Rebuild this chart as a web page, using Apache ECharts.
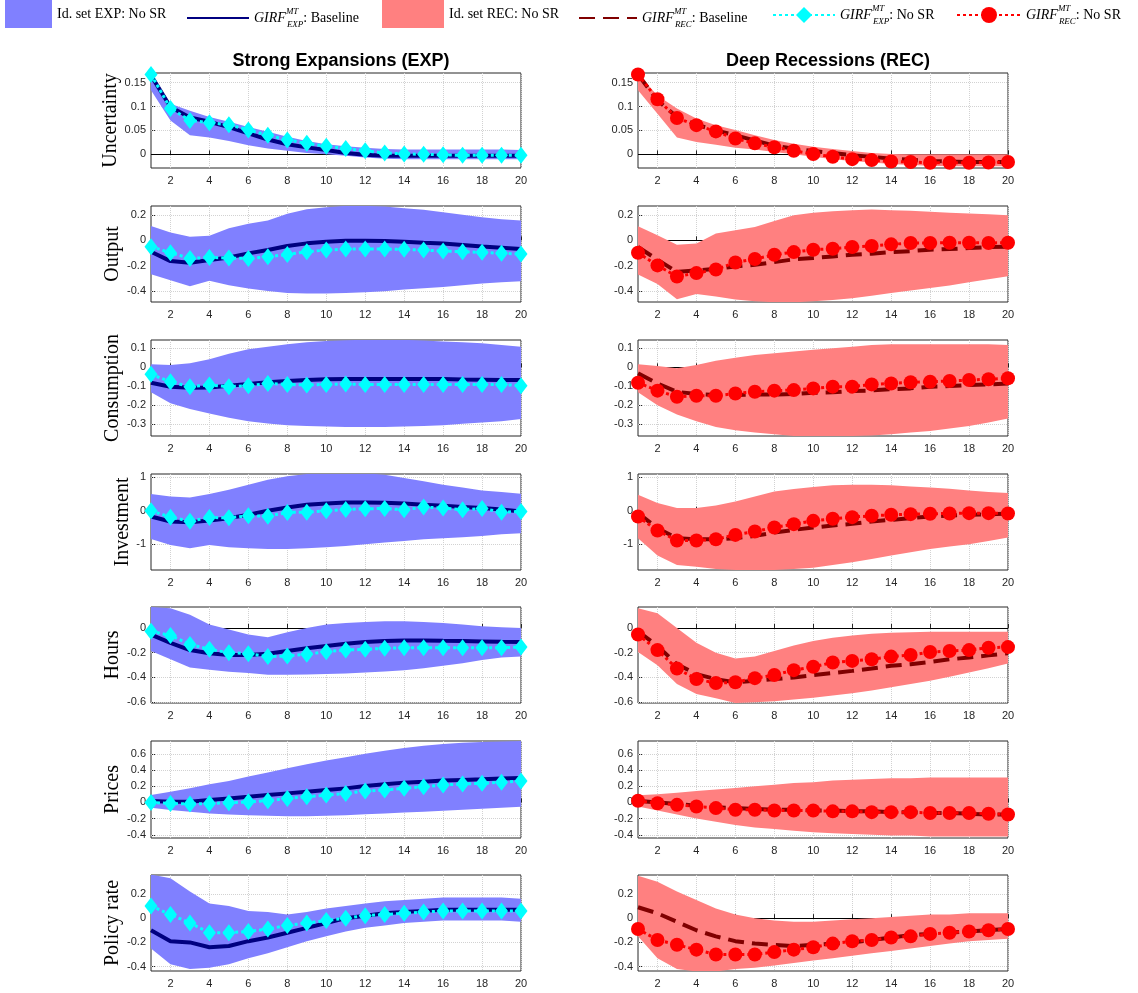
<!DOCTYPE html>
<html>
<head>
<meta charset="utf-8">
<script src="https://cdn.jsdelivr.net/npm/echarts@6/dist/echarts.min.js"></script>
<style>html,body{margin:0;padding:0;background:#fff;}#c{width:1138px;height:993px;}</style>
</head>
<body>
<div id="c"></div>
<script>
// ---------------- DATA ----------------
const horizons = [1,2,3,4,5,6,7,8,9,10,11,12,13,14,15,16,17,18,19,20];
const varNames = ['Uncertainty','Output','Consumption','Investment','Hours','Prices','Policy rate'];
const yTicks = [[0,0.05,0.1,0.15],[-0.4,-0.2,0,0.2],[-0.3,-0.2,-0.1,0,0.1],[-1,0,1],[-0.6,-0.4,-0.2,0],[-0.4,-0.2,0,0.2,0.4,0.6],[-0.4,-0.2,0,0.2]];
const yRanges = [[-0.0285,0.17],[-0.487,0.271],[-0.362,0.144],[-1.77,1.1],[-0.61,0.17],[-0.44,0.76],[-0.436,0.356]];

// Uncertainty
const uncExpHi = [0.168,0.106,0.091,0.078,0.068,0.057,0.047,0.037,0.028,0.021,0.017,0.014,0.011,0.010,0.010,0.010,0.010,0.010,0.010,0.009];
const uncExpLo = [0.134,0.071,0.040,0.035,0.028,0.019,0.012,0.0075,0.003,0.000,-0.003,-0.0065,-0.009,-0.010,-0.010,-0.010,-0.010,-0.010,-0.010,-0.010];
const uncExpBase = [0.165,0.099,0.077,0.068,0.057,0.044,0.031,0.021,0.0146,0.009,0.003,-0.001,-0.003,-0.003,-0.003,-0.003,-0.003,-0.003,-0.003,-0.003];
const uncExpNoSR = [0.167,0.096,0.071,0.066,0.062,0.051,0.040,0.030,0.023,0.017,0.012,0.0075,0.003,0.001,0.000,-0.001,-0.002,-0.002,-0.002,-0.002];
const uncRecHi = [0.168,0.123,0.096,0.075,0.061,0.051,0.040,0.030,0.022,0.016,0.011,0.007,0.003,0.001,0.000,0.000,0.000,0.000,0.000,0.000];
const uncRecLo = [0.134,0.085,0.035,0.026,0.020,0.014,0.010,0.005,0.000,-0.005,-0.010,-0.014,-0.017,-0.020,-0.022,-0.024,-0.025,-0.025,-0.025,-0.025];
const uncRecBase = [0.167,0.113,0.078,0.062,0.050,0.040,0.029,0.018,0.012,0.007,0.003,-0.002,-0.005,-0.009,-0.011,-0.014,-0.015,-0.016,-0.016,-0.016];
const uncRecNoSR = [0.167,0.115,0.076,0.061,0.048,0.033,0.023,0.015,0.0075,0.0006,-0.005,-0.010,-0.012,-0.015,-0.016,-0.0175,-0.0175,-0.0175,-0.017,-0.016];

// Output
const outExpHi = [0.114,0.061,0.029,0.037,0.095,0.130,0.156,0.209,0.246,0.262,0.272,0.272,0.267,0.254,0.241,0.222,0.201,0.183,0.167,0.156];
const outExpLo = [-0.267,-0.315,-0.362,-0.320,-0.354,-0.381,-0.400,-0.415,-0.420,-0.420,-0.415,-0.410,-0.402,-0.389,-0.378,-0.368,-0.354,-0.341,-0.331,-0.323];
const outExpBase = [-0.090,-0.164,-0.177,-0.156,-0.135,-0.103,-0.077,-0.045,-0.024,-0.011,-0.003,-0.003,-0.005,-0.011,-0.019,-0.026,-0.037,-0.048,-0.058,-0.069];
const outExpNoSR = [-0.050,-0.098,-0.143,-0.135,-0.140,-0.143,-0.130,-0.111,-0.090,-0.077,-0.069,-0.069,-0.069,-0.071,-0.077,-0.085,-0.090,-0.095,-0.103,-0.108];
const outRecHi = [0.111,0.040,-0.034,-0.026,0.053,0.079,0.106,0.153,0.198,0.217,0.230,0.238,0.243,0.238,0.233,0.225,0.217,0.212,0.206,0.198];
const outRecLo = [-0.270,-0.344,-0.466,-0.423,-0.444,-0.468,-0.481,-0.489,-0.490,-0.481,-0.471,-0.458,-0.437,-0.415,-0.397,-0.376,-0.357,-0.331,-0.307,-0.283];
const outRecBase = [-0.053,-0.153,-0.250,-0.238,-0.225,-0.206,-0.193,-0.172,-0.150,-0.140,-0.127,-0.114,-0.106,-0.093,-0.085,-0.074,-0.069,-0.061,-0.053,-0.050];
const outRecNoSR = [-0.098,-0.198,-0.286,-0.259,-0.230,-0.175,-0.148,-0.114,-0.093,-0.074,-0.066,-0.053,-0.045,-0.032,-0.021,-0.021,-0.019,-0.019,-0.021,-0.019];

// Consumption
const conExpHi = [0.016,0.012,0.021,0.042,0.071,0.095,0.109,0.122,0.132,0.139,0.143,0.145,0.145,0.145,0.141,0.136,0.132,0.127,0.118,0.109];
const conExpLo = [-0.132,-0.190,-0.220,-0.243,-0.266,-0.284,-0.296,-0.305,-0.309,-0.312,-0.314,-0.314,-0.314,-0.312,-0.309,-0.305,-0.298,-0.291,-0.284,-0.273];
const conExpBase = [-0.081,-0.102,-0.108,-0.106,-0.097,-0.088,-0.079,-0.072,-0.067,-0.063,-0.062,-0.062,-0.062,-0.062,-0.062,-0.062,-0.064,-0.065,-0.067,-0.067];
const conExpNoSR = [-0.037,-0.076,-0.102,-0.093,-0.102,-0.097,-0.085,-0.090,-0.093,-0.090,-0.088,-0.090,-0.090,-0.090,-0.090,-0.090,-0.090,-0.090,-0.090,-0.097];
const conRecHi = [0.016,0.007,-0.005,0.012,0.034,0.051,0.065,0.074,0.083,0.092,0.100,0.109,0.118,0.122,0.122,0.122,0.122,0.122,0.122,0.118];
const conRecLo = [-0.132,-0.200,-0.249,-0.284,-0.314,-0.332,-0.344,-0.353,-0.362,-0.362,-0.362,-0.362,-0.360,-0.353,-0.344,-0.335,-0.323,-0.309,-0.291,-0.270];
const conRecBase = [-0.032,-0.085,-0.129,-0.141,-0.146,-0.146,-0.143,-0.143,-0.141,-0.134,-0.132,-0.125,-0.122,-0.115,-0.111,-0.102,-0.099,-0.093,-0.090,-0.085];
const conRecNoSR = [-0.081,-0.123,-0.155,-0.150,-0.150,-0.138,-0.129,-0.123,-0.120,-0.111,-0.102,-0.102,-0.090,-0.085,-0.079,-0.076,-0.072,-0.067,-0.063,-0.058];

// Investment
const invExpHi = [0.50,0.43,0.40,0.50,0.63,0.78,0.93,1.03,1.10,1.12,1.12,1.12,1.08,0.98,0.88,0.78,0.70,0.61,0.56,0.51];
const invExpLo = [-0.84,-1.02,-1.12,-1.02,-1.09,-1.12,-1.14,-1.14,-1.12,-1.09,-1.05,-1.00,-0.95,-0.90,-0.85,-0.82,-0.79,-0.75,-0.70,-0.67];
const invExpBase = [-0.17,-0.32,-0.34,-0.29,-0.22,-0.12,0.00,0.10,0.18,0.22,0.25,0.25,0.24,0.22,0.18,0.15,0.11,0.08,0.04,-0.02];
const invExpNoSR = [0.00,-0.19,-0.31,-0.20,-0.21,-0.15,-0.16,-0.05,-0.04,0.00,0.04,0.06,0.07,0.03,0.11,0.08,0.03,0.07,-0.04,-0.02];
const invRecHi = [0.48,0.23,0.08,0.08,0.16,0.28,0.43,0.58,0.65,0.71,0.76,0.78,0.78,0.76,0.73,0.70,0.66,0.61,0.56,0.53];
const invRecLo = [-0.82,-1.34,-1.62,-1.67,-1.74,-1.77,-1.77,-1.77,-1.74,-1.70,-1.62,-1.54,-1.44,-1.34,-1.24,-1.14,-1.07,-1.00,-0.90,-0.80];
const invRecBase = [-0.07,-0.52,-0.82,-0.85,-0.85,-0.82,-0.75,-0.65,-0.57,-0.50,-0.44,-0.39,-0.32,-0.27,-0.22,-0.17,-0.14,-0.12,-0.10,-0.09];
const invRecNoSR = [-0.17,-0.59,-0.89,-0.89,-0.85,-0.72,-0.62,-0.50,-0.40,-0.30,-0.24,-0.19,-0.15,-0.12,-0.10,-0.09,-0.08,-0.07,-0.07,-0.08];

// Hours
const hrsExpHi = [0.17,0.16,0.107,0.027,-0.013,-0.054,-0.075,-0.035,0.000,0.027,0.040,0.048,0.054,0.054,0.048,0.040,0.027,0.013,0.005,0.000];
const hrsExpLo = [-0.188,-0.255,-0.322,-0.340,-0.357,-0.367,-0.381,-0.381,-0.378,-0.375,-0.370,-0.362,-0.354,-0.343,-0.327,-0.308,-0.287,-0.260,-0.241,-0.233];
const hrsExpBase = [-0.054,-0.121,-0.180,-0.206,-0.220,-0.220,-0.209,-0.188,-0.166,-0.147,-0.129,-0.115,-0.107,-0.102,-0.102,-0.105,-0.107,-0.110,-0.113,-0.115];
const hrsExpNoSR = [-0.027,-0.062,-0.134,-0.174,-0.201,-0.209,-0.233,-0.228,-0.214,-0.193,-0.180,-0.174,-0.166,-0.161,-0.161,-0.161,-0.161,-0.161,-0.161,-0.156];
const hrsRecHi = [0.16,0.12,0.00,-0.121,-0.201,-0.249,-0.233,-0.188,-0.142,-0.107,-0.080,-0.062,-0.048,-0.040,-0.035,-0.032,-0.032,-0.032,-0.032,-0.032];
const hrsRecLo = [-0.196,-0.303,-0.456,-0.536,-0.571,-0.610,-0.603,-0.595,-0.582,-0.568,-0.550,-0.531,-0.509,-0.483,-0.456,-0.429,-0.397,-0.362,-0.327,-0.290];
const hrsRecBase = [-0.027,-0.147,-0.295,-0.375,-0.416,-0.442,-0.429,-0.416,-0.402,-0.383,-0.367,-0.349,-0.330,-0.308,-0.295,-0.276,-0.255,-0.241,-0.223,-0.206];
const hrsRecNoSR = [-0.054,-0.180,-0.330,-0.416,-0.448,-0.442,-0.408,-0.383,-0.343,-0.316,-0.281,-0.268,-0.255,-0.233,-0.220,-0.196,-0.188,-0.180,-0.161,-0.156];

// Prices
const priExpHi = [0.091,0.133,0.174,0.224,0.266,0.320,0.369,0.423,0.473,0.519,0.560,0.602,0.639,0.672,0.701,0.722,0.739,0.747,0.755,0.760];
const priExpLo = [-0.066,-0.095,-0.116,-0.137,-0.149,-0.158,-0.166,-0.170,-0.170,-0.166,-0.158,-0.145,-0.137,-0.124,-0.116,-0.104,-0.091,-0.079,-0.066,-0.054];
const priExpBase = [0.017,0.008,0.008,0.029,0.050,0.070,0.091,0.112,0.133,0.154,0.174,0.203,0.224,0.245,0.257,0.270,0.278,0.286,0.295,0.303];
const priExpNoSR = [0.000,-0.012,-0.020,-0.012,-0.004,0.008,0.021,0.050,0.070,0.091,0.112,0.141,0.154,0.174,0.195,0.216,0.228,0.237,0.249,0.266];
const priRecHi = [0.09,0.10,0.12,0.14,0.16,0.18,0.20,0.22,0.24,0.25,0.27,0.28,0.29,0.30,0.30,0.31,0.31,0.31,0.31,0.31];
const priRecLo = [-0.05,-0.10,-0.15,-0.20,-0.24,-0.28,-0.31,-0.33,-0.35,-0.37,-0.38,-0.39,-0.40,-0.41,-0.41,-0.42,-0.42,-0.42,-0.42,-0.42];
const priRecBase = [0.02,0.00,-0.02,-0.04,-0.06,-0.07,-0.08,-0.09,-0.09,-0.10,-0.10,-0.11,-0.11,-0.12,-0.12,-0.13,-0.13,-0.14,-0.15,-0.15];
const priRecNoSR = [0.02,-0.01,-0.03,-0.05,-0.07,-0.09,-0.09,-0.10,-0.10,-0.10,-0.11,-0.11,-0.12,-0.12,-0.12,-0.13,-0.13,-0.13,-0.14,-0.15];

// Policy rate
const polExpHi = [0.36,0.33,0.22,0.12,0.10,0.06,0.05,0.03,0.05,0.08,0.10,0.12,0.14,0.15,0.16,0.17,0.17,0.17,0.17,0.16];
const polExpLo = [-0.25,-0.38,-0.42,-0.41,-0.38,-0.33,-0.29,-0.24,-0.19,-0.15,-0.11,-0.08,-0.06,-0.04,-0.03,-0.02,-0.02,-0.02,-0.02,-0.03];
const polExpBase = [-0.10,-0.19,-0.20,-0.24,-0.23,-0.19,-0.16,-0.12,-0.08,-0.04,0.00,0.02,0.04,0.05,0.06,0.07,0.07,0.07,0.07,0.07];
const polExpNoSR = [0.10,0.03,-0.04,-0.12,-0.12,-0.11,-0.09,-0.06,-0.04,-0.02,0.00,0.02,0.03,0.04,0.05,0.06,0.06,0.06,0.06,0.06];
const polRecHi = [0.35,0.30,0.22,0.15,0.08,0.03,0.00,-0.02,-0.03,-0.03,-0.02,-0.01,0.00,0.01,0.02,0.03,0.03,0.04,0.04,0.04];
const polRecLo = [-0.15,-0.33,-0.42,-0.44,-0.44,-0.42,-0.41,-0.39,-0.37,-0.35,-0.33,-0.31,-0.29,-0.27,-0.25,-0.23,-0.21,-0.19,-0.18,-0.17];
const polRecBase = [0.09,0.04,-0.03,-0.10,-0.15,-0.19,-0.21,-0.22,-0.23,-0.22,-0.21,-0.20,-0.18,-0.16,-0.14,-0.13,-0.12,-0.11,-0.10,-0.09];
const polRecNoSR = [-0.09,-0.18,-0.22,-0.26,-0.30,-0.30,-0.30,-0.28,-0.26,-0.24,-0.21,-0.19,-0.18,-0.16,-0.15,-0.13,-0.12,-0.11,-0.10,-0.09];

const panels = [
  [[uncExpLo,uncExpHi,uncExpBase,uncExpNoSR],[uncRecLo,uncRecHi,uncRecBase,uncRecNoSR]],
  [[outExpLo,outExpHi,outExpBase,outExpNoSR],[outRecLo,outRecHi,outRecBase,outRecNoSR]],
  [[conExpLo,conExpHi,conExpBase,conExpNoSR],[conRecLo,conRecHi,conRecBase,conRecNoSR]],
  [[invExpLo,invExpHi,invExpBase,invExpNoSR],[invRecLo,invRecHi,invRecBase,invRecNoSR]],
  [[hrsExpLo,hrsExpHi,hrsExpBase,hrsExpNoSR],[hrsRecLo,hrsRecHi,hrsRecBase,hrsRecNoSR]],
  [[priExpLo,priExpHi,priExpBase,priExpNoSR],[priRecLo,priRecHi,priRecBase,priRecNoSR]],
  [[polExpLo,polExpHi,polExpBase,polExpNoSR],[polRecLo,polRecHi,polRecBase,polRecNoSR]]
];
const N_BAND = ['Id. set EXP: No SR','Id. set REC: No SR'];
const N_BASE = ['EXP Baseline','REC Baseline'];
const N_NOSR = ['EXP No SR','REC No SR'];

// ---------------- LAYOUT / STYLE ----------------
const GL = [151, 638], GW = 370;
const GT = [73, 206, 340, 474, 607, 741, 875];
const GH = [95, 96, 96, 96, 96, 97, 96];
const BAND_C = ['#8080ff', '#ff8080'];
const TXT = '#262626';
const GRIDC = '#d2d2d2';
const evenOnly = (i) => i % 2 === 1;

const grids = [], xAxes = [], yAxes = [], series = [];
let gi = 0;
for (let r = 0; r < 7; r++) {
  for (let c = 0; c < 2; c++) {
    const [lo, hi, base, nosr] = panels[r][c];
    const ticks = yTicks[r];
    grids.push({left: GL[c], top: GT[r], width: GW, height: GH[r], show: true,
      borderColor: TXT, borderWidth: 1, backgroundColor: 'rgba(0,0,0,0)'});
    xAxes.push({gridIndex: gi, type: 'category', data: horizons.map(String), boundaryGap: false,
      axisLine: {show: false},
      axisTick: {show: true, inside: true, length: 4, interval: evenOnly, lineStyle: {color: TXT}},
      axisLabel: {interval: evenOnly, fontSize: 11, color: TXT, fontFamily: 'Liberation Sans', margin: 7},
      splitLine: {show: true, interval: evenOnly, lineStyle: {type: 'dotted', color: GRIDC, width: 1}}});
    yAxes.push({gridIndex: gi, type: 'value', min: yRanges[r][0], max: yRanges[r][1],
      axisLine: {show: false},
      axisTick: {show: true, inside: true, length: 4, customValues: ticks, lineStyle: {color: TXT}},
      axisLabel: {customValues: ticks, fontSize: 11, color: TXT, fontFamily: 'Liberation Sans', margin: 5,
        formatter: (v) => String(+(+v).toFixed(3))},
      splitLine: {show: false},
      name: c === 0 ? varNames[r] : '', nameLocation: 'middle', nameRotate: 90, nameGap: 17,
      nameTextStyle: {fontFamily: 'Liberation Serif', fontSize: 20, color: '#000'}});
    // grid lines + zero line (behind the band)
    series.push({type: 'line', xAxisIndex: gi, yAxisIndex: gi, data: [], silent: true, z: 1,
      markLine: {silent: true, z: 1, symbol: ['none', 'none'], label: {show: false}, animation: false,
        lineStyle: {type: 'dotted', color: GRIDC, width: 1},
        data: ticks.map(v => ({yAxis: v})).concat([{yAxis: 0, lineStyle: {type: 'solid', color: '#000', width: 1}}])}});
    // band
    series.push({name: '_lo' + gi, type: 'line', xAxisIndex: gi, yAxisIndex: gi, stack: 'band' + gi, stackStrategy: 'all',
      data: lo, symbol: 'none', lineStyle: {width: 0, opacity: 0}, silent: true, z: 2});
    series.push({name: N_BAND[c], type: 'line', xAxisIndex: gi, yAxisIndex: gi, stack: 'band' + gi, stackStrategy: 'all',
      data: hi.map((h, i) => +(h - lo[i]).toFixed(5)), symbol: 'none', color: BAND_C[c],
      itemStyle: {color: BAND_C[c]}, lineStyle: {width: 0, opacity: 0},
      areaStyle: {color: BAND_C[c], opacity: 1}, silent: true, z: 2});
    // baseline
    series.push({name: N_BASE[c], type: 'line', xAxisIndex: gi, yAxisIndex: gi, data: base, symbol: 'none', z: 3,
      color: c === 0 ? '#000080' : '#800000',
      lineStyle: c === 0 ? {color: '#000080', width: 4} : {color: '#800000', width: 4, type: [16, 8]}});
    // No SR
    series.push({name: N_NOSR[c], type: 'line', xAxisIndex: gi, yAxisIndex: gi, data: nosr, z: 4,
      color: c === 0 ? '#00ffff' : '#ff0000', showAllSymbol: true,
      symbol: c === 0 ? 'diamond' : 'circle', symbolSize: c === 0 ? [13, 17] : 14,
      itemStyle: {color: c === 0 ? '#00ffff' : '#ff0000'},
      lineStyle: {color: c === 0 ? '#00ffff' : '#ff0000', width: 3, type: [3, 3]}});
    gi++;
  }
}

const RICH = {
  n: {fontFamily: 'Liberation Serif', fontSize: 14, color: '#000', lineHeight: 22},
  it: {fontFamily: 'Liberation Serif', fontStyle: 'italic', fontSize: 14, color: '#000', lineHeight: 22},
  sup: {fontFamily: 'Liberation Serif', fontStyle: 'italic', fontSize: 9, color: '#000', verticalAlign: 'top', lineHeight: 11, width: 1},
  sub: {fontFamily: 'Liberation Serif', fontStyle: 'italic', fontSize: 9, color: '#000', verticalAlign: 'bottom', lineHeight: 11}
};
const legendFmt = (name) => {
  if (name.indexOf('Id.') === 0) return '{n|' + name + '}';
  const parts = name.split(' ');
  const reg = parts[0];
  const rest = parts.slice(1).join(' ');
  return '{it|GIRF}{sup|MT}{sub|' + reg + '}{n|: ' + rest + '}';
};
const mkLegend = (name, left, top, w, h, icon, hideSymbol) => {
  const lg = {
    data: [name], left: left, top: top, itemWidth: w, itemHeight: h, selectedMode: false,
    formatter: legendFmt, itemGap: 0, padding: 0,
    textStyle: {fontFamily: 'Liberation Serif', fontSize: 14, color: '#000', rich: RICH}
  };
  if (icon) lg.icon = icon;
  if (hideSymbol) lg.itemStyle = {opacity: 0};
  return lg;
};

const option = {
  animation: false,
  backgroundColor: '#fff',
  title: [
    {text: 'Strong Expansions (EXP)', left: 336, top: 47, textAlign: 'center',
      textStyle: {fontFamily: 'Liberation Sans', fontWeight: 'bold', fontSize: 18, color: '#000'}},
    {text: 'Deep Recessions (REC)', left: 823, top: 47, textAlign: 'center',
      textStyle: {fontFamily: 'Liberation Sans', fontWeight: 'bold', fontSize: 18, color: '#000'}}
  ],
  legend: [
    mkLegend(N_BAND[0], 5, 0, 47, 28, 'rect'),
    mkLegend(N_BASE[0], 186, 7, 62, 14, null, true),
    mkLegend(N_BAND[1], 382, 0, 62, 28, 'rect'),
    mkLegend(N_BASE[1], 578, 7, 58, 14, null, true),
    mkLegend(N_NOSR[0], 772, 4, 62, 20),
    mkLegend(N_NOSR[1], 956, 4, 64, 20)
  ],
  grid: grids, xAxis: xAxes, yAxis: yAxes, series: series
};
const chart = echarts.init(document.getElementById('c'));
chart.setOption(option);
</script>
</body>
</html>
